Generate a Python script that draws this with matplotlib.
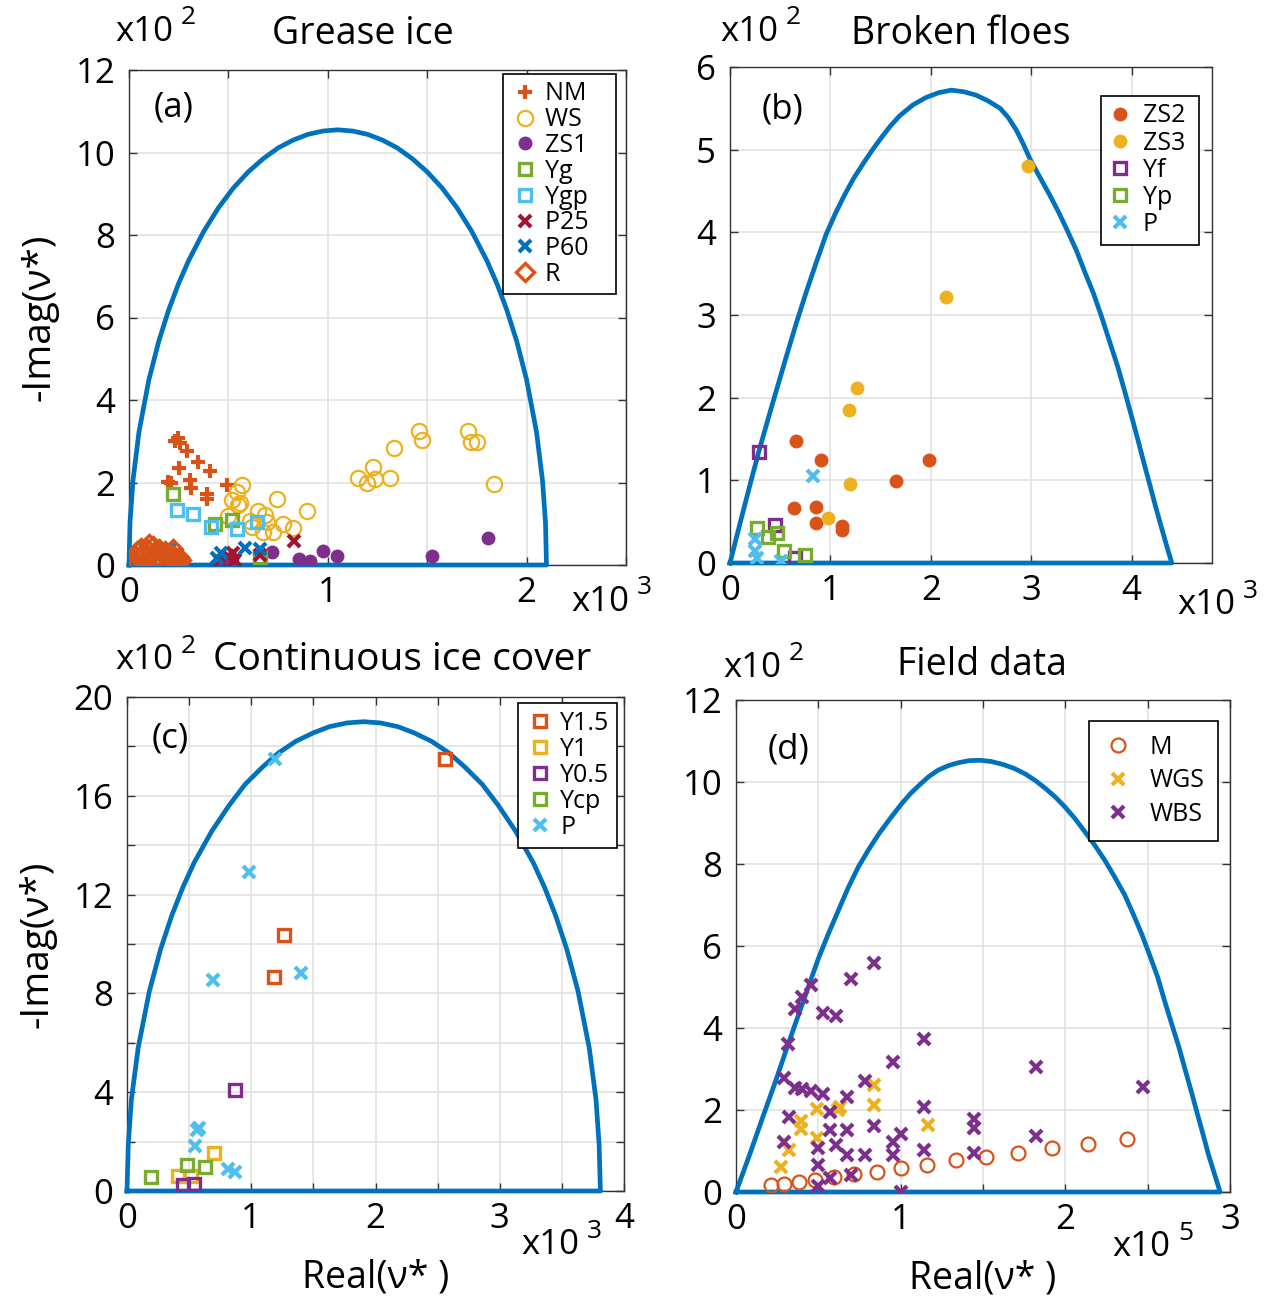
import matplotlib
matplotlib.use("Agg")
import matplotlib.pyplot as plt

plt.rcParams["font.family"] = ["Open Sans", "DejaVu Sans"]

W, H = 1266, 1303

# ── colores MATLAB ──────────────────────────────────────────────
BLUE = "#0072BD"
ORANGE = "#D95319"
YELLOW = "#EDB120"
PURPLE = "#7E2F8E"
GREEN = "#77AC30"
CYAN = "#4DBEEE"
DRED = "#A2142F"

# ── curvas límite ───────────────────────────────────────────────
curve_a_x = [0, 0.005, 0.02, 0.05, 0.1, 0.15, 0.2, 0.25, 0.3, 0.375, 0.45, 0.525, 0.6, 0.675,
             0.75, 0.825, 0.9, 0.975, 1.05, 1.125, 1.2, 1.275, 1.35, 1.425, 1.5, 1.575, 1.65,
             1.725, 1.8, 1.85, 1.9, 1.95, 2.0, 2.05, 2.08, 2.095, 2.1]
curve_a_y = [0, 1.03, 2.05, 3.22, 4.49, 5.43, 6.19, 6.83, 7.38, 8.08, 8.66, 9.14, 9.53, 9.85,
             10.11, 10.30, 10.44, 10.52, 10.55, 10.52, 10.44, 10.30, 10.11, 9.85, 9.53, 9.14,
             8.66, 8.08, 7.38, 6.83, 6.19, 5.43, 4.49, 3.22, 2.05, 1.03, 0]

curve_b_x = [0, 0.1, 0.2, 0.286, 0.4, 0.559, 0.66, 0.76, 0.86, 0.959, 1.05, 1.14, 1.23, 1.325,
             1.42, 1.51, 1.6, 1.69, 1.82, 1.95, 2.08, 2.204, 2.33, 2.45, 2.57, 2.69, 2.77, 2.85,
             2.92, 2.99, 3.08, 3.18, 3.27, 3.36, 3.45, 3.53, 3.62, 3.70, 3.78, 3.86, 3.93, 4.0,
             4.06, 4.12, 4.18, 4.23, 4.28, 4.32, 4.36, 4.40]
curve_b_y = [0, 0.48, 0.95, 1.344, 1.83, 2.49, 2.9, 3.28, 3.64, 3.98, 4.23, 4.45, 4.65, 4.83,
             5.0, 5.15, 5.29, 5.41, 5.54, 5.63, 5.69, 5.72, 5.70, 5.66, 5.59, 5.50, 5.39, 5.24,
             5.07, 4.88, 4.68, 4.46, 4.25, 4.02, 3.78, 3.53, 3.26, 2.98, 2.68, 2.38, 2.08, 1.77,
             1.5, 1.22, 0.95, 0.72, 0.5, 0.33, 0.16, 0]

curve_c_x = [0, 0.01, 0.035, 0.09, 0.18, 0.27, 0.36, 0.45, 0.54, 0.68, 0.82, 0.95, 1.09, 1.22,
             1.36, 1.5, 1.63, 1.77, 1.905, 2.04, 2.18, 2.31, 2.45, 2.59, 2.72, 2.86, 2.99, 3.13,
             3.27, 3.36, 3.45, 3.54, 3.63, 3.72, 3.775, 3.80, 3.81]
curve_c_y = [0, 1.85, 3.69, 5.8, 8.09, 9.78, 11.15, 12.3, 13.29, 14.55, 15.6, 16.46, 17.16,
             17.74, 18.21, 18.55, 18.8, 18.95, 19.0, 18.95, 18.8, 18.55, 18.21, 17.74, 17.16,
             16.46, 15.6, 14.55, 13.29, 12.3, 11.15, 9.78, 8.09, 5.8, 3.69, 1.85, 0]

curve_d_x = [0, 0.08, 0.156, 0.24, 0.318, 0.41, 0.5, 0.56, 0.62, 0.68, 0.743, 0.81, 0.87, 0.94,
             1.006, 1.06, 1.12, 1.17, 1.228, 1.29, 1.35, 1.415, 1.481, 1.55, 1.62, 1.69, 1.755,
             1.82, 1.88, 1.94, 1.998, 2.06, 2.12, 2.18, 2.24, 2.30, 2.36, 2.41, 2.463, 2.51,
             2.56, 2.60, 2.645, 2.69, 2.73, 2.77, 2.807, 2.84, 2.87, 2.905, 2.94]
curve_d_y = [0, 0.88, 1.75, 2.7, 3.62, 4.67, 5.69, 6.29, 6.85, 7.41, 7.93, 8.38, 8.75, 9.13,
             9.47, 9.72, 9.95, 10.13, 10.29, 10.40, 10.47, 10.52, 10.53, 10.50, 10.43, 10.33,
             10.20, 10.03, 9.84, 9.63, 9.39, 9.10, 8.78, 8.45, 8.09, 7.68, 7.25, 6.80, 6.30,
             5.80, 5.25, 4.70, 4.11, 3.53, 2.95, 2.38, 1.83, 1.35, 0.9, 0.45, 0]

# ── (a) Grease ice ──────────────────────────────────────────────
nm_x = [0.23, 0.245, 0.255, 0.29, 0.254, 0.349, 0.407, 0.307, 0.31, 0.198, 0.21, 0.491, 0.394, 0.39]
nm_y = [3.0, 3.08, 2.95, 2.76, 2.35, 2.5, 2.27, 2.07, 1.87, 2.01, 1.98, 1.95, 1.71, 1.6]
ws_x = [0.567, 0.545, 0.517, 0.55, 0.56, 0.743, 0.894, 0.65, 0.684, 0.5, 0.61, 0.692, 0.776,
        0.823, 0.617, 0.676, 0.726, 1.153, 1.195, 1.229, 1.237, 1.313, 1.333, 1.459, 1.472,
        1.707, 1.718, 1.749, 1.836]
ws_y = [1.95, 1.77, 1.58, 1.45, 1.5, 1.6, 1.32, 1.3, 1.22, 1.18, 1.06, 1.04, 0.99, 0.89, 0.91,
        0.8, 0.81, 2.12, 1.99, 2.37, 2.09, 2.12, 2.84, 3.26, 3.04, 3.26, 2.98, 2.99, 1.96]
zs1_x = [0.717, 0.857, 0.91, 0.974, 1.044, 1.526, 1.807, 0.475, 0.52]
zs1_y = [0.31, 0.15, 0.09, 0.33, 0.23, 0.23, 0.65, 0.1, 0.17]
yg_x = [0.22, 0.432, 0.516, 0.659]
yg_y = [1.72, 0.99, 1.09, 0.2]
ygp_x = [0.24, 0.324, 0.412, 0.541, 0.645]
ygp_y = [1.34, 1.24, 0.93, 0.88, 1.04]
p25_x = [0.83, 0.525, 0.533, 0.5, 0.46, 0.659]
p25_y = [0.59, 0.29, 0.13, 0.22, 0.1, 0.25]
p60_x = [0.461, 0.583, 0.659, 0.441, 0.2]
p60_y = [0.29, 0.41, 0.38, 0.17, 0.36]
r_x = [0.02, 0.03, 0.04, 0.05, 0.06, 0.07, 0.08, 0.09, 0.1, 0.11, 0.12, 0.13, 0.14, 0.15, 0.16,
       0.17, 0.18, 0.19, 0.2, 0.21, 0.22, 0.23, 0.24, 0.25, 0.26, 0.04, 0.12, 0.16, 0.2, 0.22]
r_y = [0.12, 0.25, 0.35, 0.2, 0.42, 0.3, 0.15, 0.38, 0.5, 0.25, 0.45, 0.33, 0.18, 0.4, 0.28,
       0.1, 0.35, 0.22, 0.3, 0.12, 0.25, 0.18, 0.08, 0.2, 0.12, 0.05, 0.05, 0.05, 0.02, 0.4]

# ── (b) Broken floes ────────────────────────────────────────────
zs2_x = [0.659, 0.903, 1.98, 1.65, 0.639, 0.852, 0.856, 1.118, 1.12]
zs2_y = [1.47, 1.24, 1.24, 0.99, 0.67, 0.68, 0.48, 0.45, 0.40]
zs3_x = [2.97, 2.154, 1.268, 1.182, 1.198, 0.976]
zs3_y = [4.80, 3.22, 2.12, 1.85, 0.96, 0.55]
yf_x = [0.286, 0.453, 0.646]
yf_y = [1.34, 0.46, 0.06]
yp_x = [0.27, 0.376, 0.466, 0.533, 0.746]
yp_y = [0.42, 0.32, 0.36, 0.14, 0.10]
pb_x = [0.826, 0.253, 0.253, 0.266, 0.509]
pb_y = [1.05, 0.29, 0.14, 0.06, 0.02]

# ── (c) Continuous ice cover ────────────────────────────────────
y15_x = [2.56, 1.26, 1.18]
y15_y = [17.5, 10.37, 8.66]
y1_x = [0.699, 0.412, 0.519]
y1_y = [1.53, 0.61, 0.61]
y05_x = [0.869, 0.452, 0.54]
y05_y = [4.1, 0.24, 0.3]
ycp_x = [0.197, 0.479, 0.629]
ycp_y = [0.58, 1.06, 0.96]
pc_x = [1.19, 0.98, 0.69, 1.40, 0.58, 0.565, 0.546, 0.81, 0.869]
pc_y = [17.5, 12.93, 8.54, 8.82, 2.55, 2.45, 1.83, 0.88, 0.75]

# ── (d) Field data ──────────────────────────────────────────────
m_x = [0.2125, 0.293, 0.381, 0.48, 0.593, 0.718, 0.854, 1.0, 1.161, 1.333, 1.518, 1.712, 1.92,
       2.139, 2.372]
m_y = [0.16, 0.2, 0.24, 0.30, 0.37, 0.43, 0.49, 0.59, 0.67, 0.77, 0.85, 0.95, 1.07, 1.18, 1.30]
wgs_x = [0.271, 0.324, 0.395, 0.395, 0.492, 0.492, 0.631, 0.62, 0.838, 0.838, 1.168]
wgs_y = [0.6, 1.02, 1.73, 1.53, 2.03, 1.32, 2.07, 2.0, 2.60, 2.13, 1.64]
wbs_x = [0.84, 0.7, 0.455, 0.403, 0.358, 0.526, 0.607, 0.318, 1.144, 0.951, 1.823, 2.469, 0.289,
         0.358, 0.399, 0.455, 0.526, 0.783, 0.672, 1.144, 0.571, 0.32, 0.571, 0.672, 0.84,
         1.447, 1.447, 0.999, 0.951, 0.289, 0.5, 0.607, 1.823, 1.144, 0.672, 0.783, 0.951,
         1.447, 0.5, 0.571, 0.7, 0.5, 0.999]
wbs_y = [5.59, 5.20, 5.04, 4.76, 4.47, 4.37, 4.30, 3.62, 3.72, 3.17, 3.05, 2.55, 2.77, 2.54,
         2.51, 2.47, 2.39, 2.71, 2.32, 2.07, 1.95, 1.83, 1.52, 1.52, 1.61, 1.77, 1.55, 1.41,
         1.22, 1.22, 1.08, 1.14, 1.37, 1.02, 0.9, 0.9, 0.9, 0.95, 0.65, 0.35, 0.41, 0.14, 0.0]


def px2fig(x, y):
    return x / W, 1 - y / H


def make_ax(l, t, r, b):
    return fig.add_axes([l / W, 1 - b / H, (r - l) / W, (b - t) / H])


def style_ax(ax, xlim, ylim, xticks, xlabels, yticks, ylabels):
    ax.set_xlim(*xlim)
    ax.set_ylim(*ylim)
    ax.set_xticks(xticks)
    ax.set_xticklabels(xlabels)
    ax.set_yticks(yticks)
    ax.set_yticklabels(ylabels)
    ax.grid(True, color="#e2e2e2", linewidth=1.2)
    ax.set_axisbelow(True)
    ax.tick_params(direction="in", length=6, width=1, top=True, right=True,
                   labelsize=25, colors="#333333", labelcolor="black")
    ax.tick_params(axis="x", pad=8)
    ax.tick_params(axis="y", pad=10)
    for s in ax.spines.values():
        s.set_color("#333333")
        s.set_linewidth(1.0)


def draw_curve(ax, xs, ys):
    ax.plot(list(xs) + [0], list(ys) + [0], color=BLUE, linewidth=3.4,
            clip_on=False, zorder=3, solid_joinstyle="round")


def exponent(x, y, power):
    fig.text(*px2fig(x, y), "x10", fontsize=25, ha="left", va="center")
    fig.text(*px2fig(x + 66, y - 14), power, fontsize=19, ha="left", va="center")


def leg(ax, anchor, pad_right="", **kw):
    opts = dict(loc="upper right", bbox_to_anchor=anchor, borderaxespad=0,
                fontsize=18, frameon=True, fancybox=False, edgecolor="black",
                framealpha=1, handlelength=1.16, handletextpad=0.22,
                labelspacing=0.03, borderpad=0.3)
    opts.update(kw)
    handles, labels = ax.get_legend_handles_labels()
    # MATLAB deja un margen extra a la derecha del texto
    lg = ax.legend(handles, [lb + pad_right for lb in labels], **opts)
    lg.get_frame().set_linewidth(1.2)
    lg.set_zorder(10)


fig = plt.figure(figsize=(W / 100, H / 100), dpi=100)

# ── (a) ─────────────────────────────────────────────────────────
ax = make_ax(129, 70, 626, 565)
draw_curve(ax, curve_a_x, curve_a_y)
ax.plot(nm_x, nm_y, "+", color=ORANGE, ms=10, mew=3, ls="none", label="NM", zorder=4)
ax.plot(ws_x, ws_y, "o", color=YELLOW, mfc="none", ms=11, mew=1.6, ls="none", label="WS", zorder=4)
ax.plot(zs1_x, zs1_y, "o", color=PURPLE, ms=9, ls="none", label="ZS1", zorder=4)
ax.plot(yg_x, yg_y, "s", color=GREEN, mfc="none", ms=8, mew=2.4, ls="none", label="Yg", zorder=4)
ax.plot(ygp_x, ygp_y, "s", color=CYAN, mfc="none", ms=8, mew=2.4, ls="none", label="Ygp", zorder=4)
ax.plot(p25_x, p25_y, "x", color=DRED, ms=8, mew=3, ls="none", label="P25", zorder=4)
ax.plot(p60_x, p60_y, "x", color=BLUE, ms=8, mew=3, ls="none", label="P60", zorder=4)
ax.plot(r_x, r_y, "D", color=ORANGE, mfc="none", ms=9, mew=2.4, ls="none", label="R", zorder=4)
style_ax(ax, (0, 2.5), (0, 12), [0, 0.5, 1, 1.5, 2, 2.5], ["0", "", "1", "", "2", ""],
         range(0, 13, 2), [str(v) for v in range(0, 13, 2)])
leg(ax, ((616 - 129) / 497, (565 - 74) / 495), pad_right="   ")
ax.text(0.05, 0.925, "(a)", transform=ax.transAxes, fontsize=25, va="center")
ax.set_ylabel("-Imag(ν*)", fontsize=28, labelpad=12)
fig.text(*px2fig(363, 34), "Grease ice", fontsize=27, ha="center", va="center")
exponent(115, 32, "2")
exponent(571, 602, "3")

# ── (b) ─────────────────────────────────────────────────────────
ax = make_ax(730, 67, 1212, 563)
draw_curve(ax, curve_b_x, curve_b_y)
ax.plot(zs2_x, zs2_y, "o", color=ORANGE, ms=9, ls="none", label="ZS2", zorder=4)
ax.plot(zs3_x, zs3_y, "o", color=YELLOW, ms=9, ls="none", label="ZS3", zorder=4)
ax.plot(yf_x, yf_y, "s", color=PURPLE, mfc="none", ms=8, mew=2.4, ls="none", label="Yf", zorder=4)
ax.plot(yp_x, yp_y, "s", color=GREEN, mfc="none", ms=8, mew=2.4, ls="none", label="Yp", zorder=4)
ax.plot(pb_x, pb_y, "x", color=CYAN, ms=8, mew=3, ls="none", label="P", zorder=4)
style_ax(ax, (0, 4.8), (0, 6), range(0, 5), [str(v) for v in range(0, 5)],
         range(0, 7), [str(v) for v in range(0, 7)])
leg(ax, ((1199 - 730) / 482, (563 - 96) / 496), pad_right=" ", labelspacing=0.085,
    handlelength=0.93, handletextpad=0.42)
ax.text(0.065, 0.915, "(b)", transform=ax.transAxes, fontsize=25, va="center")
fig.text(*px2fig(961, 34), "Broken floes", fontsize=27, ha="center", va="center")
exponent(720, 32, "2")
exponent(1177, 605, "3")

# ── (c) ─────────────────────────────────────────────────────────
ax = make_ax(127, 697, 624, 1191)
draw_curve(ax, curve_c_x, curve_c_y)
ax.plot(y15_x, y15_y, "s", color=ORANGE, mfc="none", ms=8, mew=2.4, ls="none", label="Y1.5", zorder=4)
ax.plot(y1_x, y1_y, "s", color=YELLOW, mfc="none", ms=8, mew=2.4, ls="none", label="Y1", zorder=4)
ax.plot(y05_x, y05_y, "s", color=PURPLE, mfc="none", ms=8, mew=2.4, ls="none", label="Y0.5", zorder=4)
ax.plot(ycp_x, ycp_y, "s", color=GREEN, mfc="none", ms=8, mew=2.4, ls="none", label="Ycp", zorder=4)
ax.plot(pc_x, pc_y, "x", color=CYAN, ms=8, mew=3, ls="none", label="P", zorder=4)
style_ax(ax, (0, 4), (0, 20), [0, 0.5, 1, 1.5, 2, 2.5, 3, 3.5, 4],
         ["0", "", "1", "", "2", "", "3", "", "4"],
         range(0, 21, 2), ["0", "", "4", "", "8", "", "12", "", "16", "", "20"])
leg(ax, ((617 - 127) / 497, (1191 - 703) / 494), labelspacing=0.045)
ax.text(0.05, 0.915, "(c)", transform=ax.transAxes, fontsize=25, va="center")
ax.set_ylabel("-Imag(ν*)", fontsize=28, labelpad=12)
ax.set_xlabel("Real(ν* )", fontsize=27, labelpad=16)
fig.text(*px2fig(402, 660), "Continuous ice cover", fontsize=28, ha="center", va="center")
exponent(115, 660, "2")
exponent(521, 1245, "3")

# ── (d) ─────────────────────────────────────────────────────────
ax = make_ax(736, 700, 1230, 1192)
draw_curve(ax, curve_d_x, curve_d_y)
ax.plot(m_x, m_y, "o", color=ORANGE, mfc="none", ms=10, mew=1.6, ls="none", label="M", zorder=4)
ax.plot(wgs_x, wgs_y, "x", color=YELLOW, ms=8, mew=3, ls="none", label="WGS", zorder=4)
ax.plot(wbs_x, wbs_y, "x", color=PURPLE, ms=8, mew=3, ls="none", label="WBS", zorder=4)
style_ax(ax, (0, 3), (0, 12), [0, 0.5, 1, 1.5, 2, 2.5, 3], ["0", "", "1", "", "2", "", "3"],
         range(0, 13, 2), [str(v) for v in range(0, 13, 2)])
leg(ax, ((1218 - 736) / 494, (1192 - 721) / 492), labelspacing=0.345,
    handlelength=1.27, handletextpad=0.6, borderpad=0.55)
ax.text(0.065, 0.9, "(d)", transform=ax.transAxes, fontsize=25, va="center")
ax.set_xlabel("Real(ν* )", fontsize=27, labelpad=16)
fig.text(*px2fig(982, 665), "Field data", fontsize=27, ha="center", va="center")
exponent(723, 668, "2")
exponent(1112, 1247, "5")

fig.savefig("out.png", dpi=100)
